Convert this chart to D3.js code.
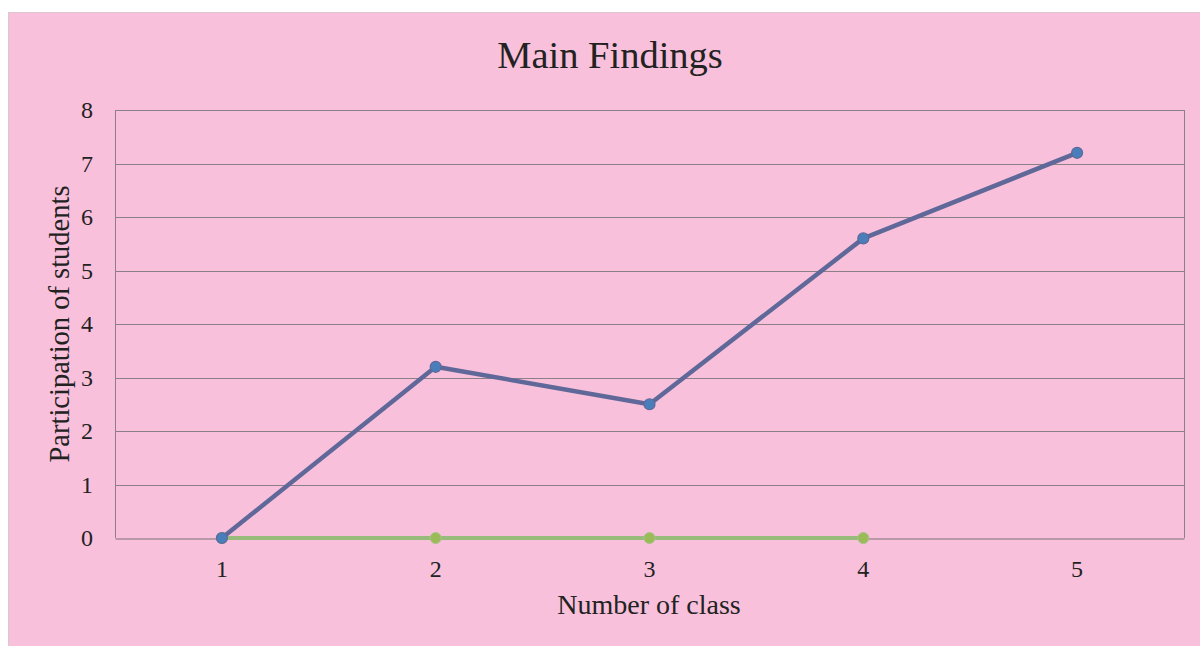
<!DOCTYPE html>
<html>
<head>
<meta charset="utf-8">
<script src="https://cdn.jsdelivr.net/npm/d3@7"></script>
<style>
  body { margin: 0; background: #fff; }
  text { font-family: "Liberation Serif", "DejaVu Serif", serif; fill: #222; }
</style>
</head>
<body>
<div id="svg-container"></div>
<script>
// data
const classes = ["1", "2", "3", "4", "5"];
const participation = [0, 3.2, 2.5, 5.6, 7.2];
const baseline = [0, 0, 0, 0];
const yTicks = [0, 1, 2, 3, 4, 5, 6, 7, 8];

const width = 1200, height = 646;
const margin = { top: 110, right: 16, bottom: 108, left: 115 };

const svg = d3.select("#svg-container").append("svg")
  .attr("width", width).attr("height", height);

// chart background
svg.append("rect")
  .attr("x", 8.5).attr("y", 12.5)
  .attr("width", width - 8).attr("height", height - 12)
  .attr("fill", "#f8c0da")
  .attr("stroke", "#dcc6d0");

// scales
const xScale = d3.scaleBand().domain(classes)
  .range([margin.left, width - margin.right]);
const yScale = d3.scaleLinear().domain([0, 8])
  .range([height - margin.bottom, margin.top]);
const xPos = (i) => xScale(classes[i]) + xScale.bandwidth() / 2;

// gridlines
svg.append("g")
  .selectAll("line")
  .data(yTicks.slice(1))
  .join("line")
  .attr("x1", margin.left).attr("x2", width - margin.right)
  .attr("y1", (d) => Math.round(yScale(d)) + 0.5)
  .attr("y2", (d) => Math.round(yScale(d)) + 0.5)
  .attr("stroke", "#8c8088");

// plot border left/right
svg.append("line")
  .attr("x1", margin.left + 0.5).attr("x2", margin.left + 0.5)
  .attr("y1", margin.top).attr("y2", height - margin.bottom)
  .attr("stroke", "#8c8088");
svg.append("line")
  .attr("x1", width - margin.right + 0.5).attr("x2", width - margin.right + 0.5)
  .attr("y1", margin.top).attr("y2", height - margin.bottom)
  .attr("stroke", "#8c8088");

// x axis
const xAxis = d3.axisBottom(xScale).tickSize(0).tickPadding(21);
const gx = svg.append("g")
  .attr("transform", `translate(0,${Math.round(yScale(0)) + 0.5})`)
  .call(xAxis);
gx.select(".domain").attr("stroke", "#7a7077");
gx.selectAll("text").attr("font-size", 24).attr("font-family", "Liberation Serif").attr("fill", "#222");

// y axis
const yAxis = d3.axisLeft(yScale).tickValues(yTicks).tickSize(0).tickPadding(22);
const gy = svg.append("g")
  .attr("transform", `translate(${margin.left},0)`)
  .call(yAxis);
gy.select(".domain").remove();
gy.selectAll("text").attr("font-size", 24).attr("font-family", "Liberation Serif").attr("fill", "#222");

// lines
const line = d3.line().x((d, i) => xPos(i)).y((d) => yScale(d));

svg.append("path")
  .datum(baseline)
  .attr("d", line)
  .attr("fill", "none")
  .attr("stroke", "#98bb7c")
  .attr("stroke-width", 4);

svg.append("g")
  .selectAll("circle")
  .data(baseline)
  .join("circle")
  .attr("cx", (d, i) => xPos(i))
  .attr("cy", (d) => yScale(d))
  .attr("r", 5.5)
  .attr("fill", "#9bbb59")
  .attr("stroke", "#a6c489");

svg.append("path")
  .datum(participation)
  .attr("d", line)
  .attr("fill", "none")
  .attr("stroke", "#5f6899")
  .attr("stroke-width", 4.5)
  .attr("stroke-linejoin", "round");

svg.append("g")
  .selectAll("circle")
  .data(participation)
  .join("circle")
  .attr("cx", (d, i) => xPos(i))
  .attr("cy", (d) => yScale(d))
  .attr("r", 5.5)
  .attr("fill", "#4a7ebb")
  .attr("stroke", "#5f6899")
  .attr("stroke-width", 1.2);

// title + units
svg.append("text")
  .attr("x", 610).attr("y", 68)
  .attr("text-anchor", "middle")
  .attr("font-size", 38.5)
  .text("Main Findings");

svg.append("text")
  .attr("x", 649).attr("y", 614)
  .attr("text-anchor", "middle")
  .attr("font-size", 28)
  .text("Number of class");

svg.append("text")
  .attr("transform", `translate(69, ${(margin.top + height - margin.bottom) / 2}) rotate(-90)`)
  .attr("text-anchor", "middle")
  .attr("font-size", 28.5)
  .text("Participation of students");
</script>
</body>
</html>
